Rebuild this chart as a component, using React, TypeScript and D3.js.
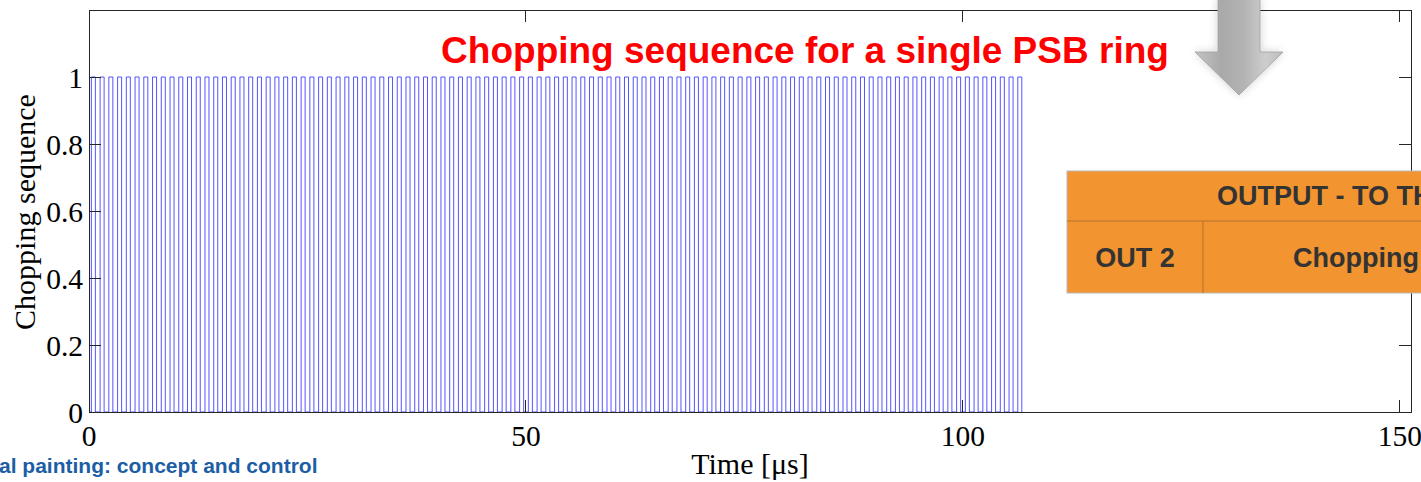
import React from "react";
import * as d3 from "d3";

const W = 1421;
const H = 482;

// Pulse rising-edge times (µs)
const pulseStarts = [
  0.27, 1.27, 2.27, 3.27, 4.27, 5.27, 6.27, 7.27, 8.27, 9.27,
  10.27, 11.27, 12.27, 13.27, 14.27, 15.27, 16.27, 17.27, 18.27, 19.27,
  20.27, 21.27, 22.27, 23.27, 24.27, 25.27, 26.27, 27.27, 28.27, 29.27,
  30.27, 31.27, 32.27, 33.27, 34.27, 35.27, 36.27, 37.27, 38.27, 39.27,
  40.27, 41.27, 42.27, 43.27, 44.27, 45.27, 46.27, 47.27, 48.27, 49.27,
  50.27, 51.27, 52.27, 53.27, 54.27, 55.27, 56.27, 57.27, 58.27, 59.27,
  60.27, 61.27, 62.27, 63.27, 64.27, 65.27, 66.27, 67.27, 68.27, 69.27,
  70.27, 71.27, 72.27, 73.27, 74.27, 75.27, 76.27, 77.27, 78.27, 79.27,
  80.27, 81.27, 82.27, 83.27, 84.27, 85.27, 86.27, 87.27, 88.27, 89.27,
  90.27, 91.27, 92.27, 93.27, 94.27, 95.27, 96.27, 97.27, 98.27, 99.27,
  100.27, 101.27, 102.27, 103.27, 104.27, 105.27, 106.27,
];
const pulseWidth = 0.46;
const pulseHigh = 1;
const pulseLow = 0;

const xTicks = [0, 50, 100, 150];
const yTicks = [0, 0.2, 0.4, 0.6, 0.8, 1];
const xDomain = [0, 151.26];
const yDomain = [0, 1.2];

const titleText = "Chopping sequence for a single PSB ring";
const xLabel = "Time [\u03bcs]";
const yLabel = "Chopping sequence";
const footerText = "al painting: concept and control";
const tableHeader = "OUTPUT - TO THE";
const tableCell1 = "OUT 2";
const tableCell2 = "Chopping";

const plot = { left: 89, right: 1411, top: 10, bottom: 412 };

export default function App() {
  const x = d3.scaleLinear().domain(xDomain).range([plot.left, plot.right]);
  const y = d3.scaleLinear().domain(yDomain).range([plot.bottom, plot.top]);

  const pts: [number, number][] = [[0, pulseLow]];
  pulseStarts.forEach((t) => {
    pts.push([t, pulseLow], [t, pulseHigh], [t + pulseWidth, pulseHigh], [t + pulseWidth, pulseLow]);
  });
  const line = d3
    .line<[number, number]>()
    .x((d) => x(d[0]))
    .y((d) => y(d[1]));
  const pathD = line(pts) || "";

  const axisColor = "#262626";
  const tickLen = 12;
  const serif = "'Liberation Serif', 'Times New Roman', serif";
  const sans = "'Liberation Sans', Arial, sans-serif";

  // arrow geometry
  const ax = 1239;
  const arrowPath = `M${ax - 21},-2 L${ax + 21},-2 L${ax + 21},52 L${ax + 44},52 L${ax},95 L${ax - 44},52 L${ax - 21},52 Z`;

  // table
  const tb = { x: 1067, y: 171, mid: 221, bottom: 293, col: 1203, right: 1500 };

  return (
    <div style={{ position: "absolute", left: 0, top: 0 }}>
      <svg width={W} height={H} style={{ display: "block", background: "#fff" }}>
        <defs>
          <linearGradient id="arrowGrad" x1="0" x2="1" y1="0" y2="0">
            <stop offset="0" stopColor="#c4c4c4" />
            <stop offset="0.3" stopColor="#a9a9a9" />
            <stop offset="0.55" stopColor="#b3b3b3" />
            <stop offset="0.8" stopColor="#cdcdcd" />
            <stop offset="1" stopColor="#bdbdbd" />
          </linearGradient>
          <filter id="glow" x="-50%" y="-50%" width="200%" height="200%">
            <feGaussianBlur in="SourceAlpha" stdDeviation="5" />
            <feComponentTransfer>
              <feFuncA type="linear" slope="0.18" />
            </feComponentTransfer>
            <feMerge>
              <feMergeNode />
              <feMergeNode in="SourceGraphic" />
            </feMerge>
          </filter>
          <clipPath id="plotClip">
            <rect x={plot.left} y={plot.top} width={plot.right - plot.left} height={plot.bottom - plot.top} />
          </clipPath>
        </defs>

        {/* pulse train */}
        <path d={pathD} fill="none" stroke="#1f1fff" strokeWidth={0.9} strokeOpacity={0.85} clipPath="url(#plotClip)" />

        {/* axes box */}
        <rect
          x={plot.left}
          y={plot.top}
          width={plot.right - plot.left}
          height={plot.bottom - plot.top}
          fill="none"
          stroke={axisColor}
          strokeWidth={1}
          shapeRendering="crispEdges"
        />

        {/* x ticks */}
        {xTicks.map((t) => (
          <g key={"xt" + t}>
            <line x1={x(t)} x2={x(t)} y1={plot.bottom} y2={plot.bottom - tickLen} stroke={axisColor} shapeRendering="crispEdges" />
            <line x1={x(t)} x2={x(t)} y1={plot.top} y2={plot.top + tickLen} stroke={axisColor} shapeRendering="crispEdges" />
            <text x={x(t)} y={446} textAnchor="middle" fontFamily={serif} fontSize={29.5} fill="#000">
              {t}
            </text>
          </g>
        ))}

        {/* y ticks */}
        {yTicks.map((t) => (
          <g key={"yt" + t}>
            <line x1={plot.left} x2={plot.left + tickLen} y1={y(t)} y2={y(t)} stroke={axisColor} shapeRendering="crispEdges" />
            <line x1={plot.right} x2={plot.right - tickLen} y1={y(t)} y2={y(t)} stroke={axisColor} shapeRendering="crispEdges" />
            <text x={83} y={y(t) + 11} textAnchor="end" fontFamily={serif} fontSize={29.5} fill="#000">
              {String(t)}
            </text>
          </g>
        ))}

        {/* axis labels */}
        <text x={750} y={474} textAnchor="middle" fontFamily={serif} fontSize={30} fill="#000">
          {xLabel}
        </text>
        <text
          transform={`translate(35,212) rotate(-90)`}
          textAnchor="middle"
          fontFamily={serif}
          fontSize={30}
          fill="#000"
        >
          {yLabel}
        </text>

        {/* title */}
        <text x={805} y={63} textAnchor="middle" fontFamily={sans} fontWeight="bold" fontSize={37} fill="#ff0000">
          {titleText}
        </text>

        {/* arrow */}
        <path d={arrowPath} fill="url(#arrowGrad)" stroke="#a0a0a0" strokeWidth={0.8} filter="url(#glow)" />

        {/* orange table */}
        <g>
          <rect x={tb.x} y={tb.y} width={tb.right - tb.x} height={tb.bottom - tb.y} fill="#f2942f" stroke="#b9b9b9" strokeWidth={1} />
          <line x1={tb.x} x2={tb.right} y1={tb.mid} y2={tb.mid} stroke="#b5702c" strokeWidth={1} />
          <line x1={tb.col} x2={tb.col} y1={tb.mid} y2={tb.bottom} stroke="#b5702c" strokeWidth={1} />
          <text x={1217} y={205} fontFamily={sans} fontWeight="bold" fontSize={27} fill="#333333">
            {tableHeader}
          </text>
          <text x={(tb.x + tb.col) / 2} y={267} textAnchor="middle" fontFamily={sans} fontWeight="bold" fontSize={27} fill="#333333">
            {tableCell1}
          </text>
          <text x={1293} y={267} fontFamily={sans} fontWeight="bold" fontSize={27} fill="#333333">
            {tableCell2}
          </text>
        </g>

        {/* footer */}
        <text x={-1} y={473} fontFamily={sans} fontWeight="bold" fontSize={21} fill="#1b5ea6">
          {footerText}
        </text>
      </svg>
    </div>
  );
}
